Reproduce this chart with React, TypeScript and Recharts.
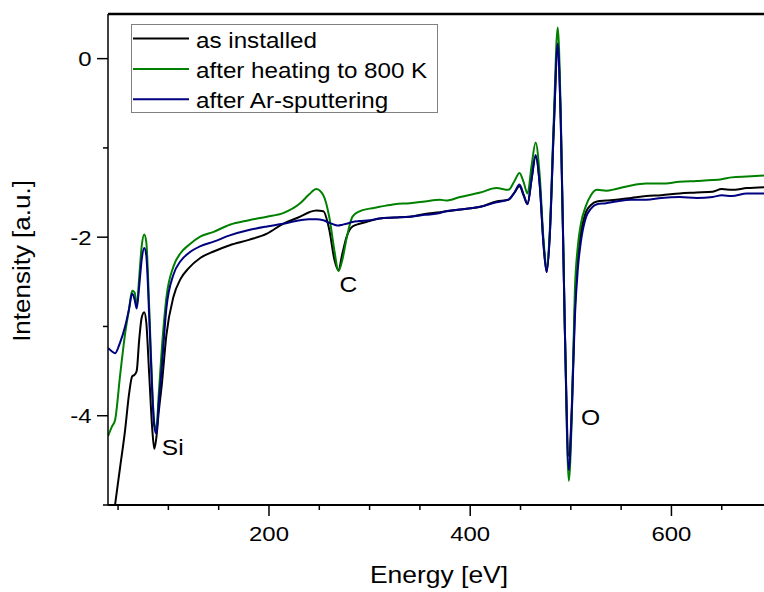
import React from 'react';
import { ComposedChart, Line, Scatter, XAxis, YAxis, Legend, ReferenceLine, Label } from 'recharts';

const FONT = '"Liberation Sans", Arial, sans-serif';

// energy grid [eV] shared by all three spectra
const energy = [
  40, 44, 47, 52, 57, 61, 64, 66.5, 68.5, 71, 73.5, 76, 78, 81, 84, 86, 88, 90.5, 93.5, 98,
  105, 112, 120, 132, 145, 161, 180, 198, 214, 231, 240, 247, 254, 260, 265, 269, 273, 277, 283, 290,
  300, 310, 325, 340, 355, 370, 376, 390, 410, 426, 438, 444, 449, 453, 457, 461, 465, 469, 473, 476,
  479, 483, 487, 490, 494, 498, 501, 504, 507, 510, 515, 520, 526, 535, 545, 560, 575, 590, 608, 625,
  641, 650, 660, 675, 692,
];

const asInstalled = [
  -5.6, -5.27, -5.0, -4.58, -4.16, -3.75, -3.56, -3.54, -3.5, -3.15, -2.9, -2.84, -2.95, -3.55, -4.15, -4.37, -4.25, -3.95, -3.65, -3.1,
  -2.67, -2.47, -2.35, -2.23, -2.16, -2.09, -2.03, -1.96, -1.85, -1.77, -1.72, -1.7, -1.71, -1.92, -2.25, -2.37, -2.18, -2.0, -1.88, -1.85,
  -1.82, -1.79, -1.78, -1.77, -1.74, -1.72, -1.71, -1.69, -1.66, -1.6, -1.58, -1.5, -1.43, -1.53, -1.63, -1.35, -1.1, -1.4, -2.1, -2.39,
  -2.0, -0.8, 0.12, -0.7, -3.0, -4.45, -3.9, -2.8, -2.2, -1.95, -1.72, -1.64, -1.6, -1.59, -1.58, -1.56, -1.54, -1.53, -1.51, -1.5,
  -1.49, -1.46, -1.47, -1.45, -1.44,
];

const heated = [
  -4.23, -4.12, -4.05, -3.55, -3.08, -2.8, -2.6, -2.62, -2.78, -2.45, -2.1, -1.97, -2.05, -2.8, -3.7, -4.08, -4.15, -3.75, -3.25, -2.68,
  -2.33, -2.18, -2.09, -1.99, -1.94, -1.86, -1.81, -1.77, -1.73, -1.62, -1.52, -1.46, -1.53, -1.78, -2.15, -2.38, -2.25, -2.02, -1.77, -1.71,
  -1.68, -1.66, -1.63, -1.62, -1.6, -1.58, -1.59, -1.55, -1.5, -1.45, -1.47, -1.37, -1.28, -1.38, -1.51, -1.2, -0.94, -1.3, -2.05, -2.33,
  -1.95, -0.7, 0.35, -0.6, -3.0, -4.73, -4.0, -2.6, -2.1, -1.85, -1.65, -1.53, -1.47, -1.48, -1.46, -1.42, -1.4, -1.4, -1.38, -1.37,
  -1.36, -1.35, -1.33, -1.32, -1.31,
];

const sputtered = [
  -3.24, -3.28, -3.3, -3.18, -3.0, -2.8, -2.63, -2.7, -2.8, -2.55, -2.25, -2.12, -2.2, -2.9, -3.75, -4.12, -4.2, -3.85, -3.45, -2.8,
  -2.42, -2.27, -2.18, -2.1, -2.05, -1.98, -1.92, -1.88, -1.85, -1.81, -1.8, -1.8, -1.81, -1.84, -1.86, -1.87, -1.86, -1.85, -1.83, -1.82,
  -1.81, -1.79, -1.78, -1.77, -1.75, -1.73, -1.71, -1.69, -1.66, -1.61, -1.58, -1.5, -1.41, -1.52, -1.63, -1.35, -1.08, -1.4, -2.1, -2.39,
  -2.0, -0.8, 0.17, -0.7, -3.0, -4.61, -3.95, -2.9, -2.35, -2.05, -1.78, -1.68, -1.63, -1.62, -1.6, -1.58, -1.58, -1.56, -1.55, -1.56,
  -1.55, -1.53, -1.54, -1.51, -1.51,
];

const seriesNames = ['as installed', 'after heating to 800 K', 'after Ar-sputtering'];
const seriesColors = ['#000000', '#008000', '#000080'];

// peak annotations
const peakNames = ['Si', 'C', 'O'];
const peakEnergy = [93.5, 270, 510];
const peakIntensity = [-4.44, -2.61, -4.1];

const xDomain = [40, 692];
const yDomain = [-5, 0.5];
const xTicks = [50, 100, 150, 200, 250, 300, 350, 400, 450, 500, 550, 600, 650];
const xLabeled = [200, 400, 600];
const yTicks = [-5, -4, -3, -2, -1, 0];
const yLabeled = [-4, -2, 0];

const rows = energy.map((e, i) => ({
  e,
  asInstalled: asInstalled[i],
  heated: heated[i],
  sputtered: sputtered[i],
}));

const peaks = peakNames.map((name, i) => ({ e: peakEnergy[i], v: peakIntensity[i], name }));

const XTick = (props: any) => {
  const { x, y, payload } = props;
  const major = xLabeled.includes(payload.value);
  return (
    <g>
      <line x1={x} y1={y} x2={x} y2={y + (major ? 11 : 5)} stroke="#000" strokeWidth={1.5} />
      {major && (
        <text transform={`translate(${x},${y + 36}) scale(1.14,1)`} textAnchor="middle" fontSize={21} fontFamily={FONT} fill="#000">
          {payload.value}
        </text>
      )}
    </g>
  );
};

const YTick = (props: any) => {
  const { x, y, payload } = props;
  const major = yLabeled.includes(payload.value);
  return (
    <g>
      <line x1={x} y1={y} x2={x - (major ? 11 : 5)} y2={y} stroke="#000" strokeWidth={1.5} />
      {major && (
        <text transform={`translate(${x - 16.5},${y + 7.5}) scale(1.14,1)`} textAnchor="end" fontSize={21} fontFamily={FONT} fill="#000">
          {payload.value}
        </text>
      )}
    </g>
  );
};

const XTitle = (props: any) => {
  const { viewBox } = props;
  const cx = viewBox.x + viewBox.width / 2 + 3;
  return (
    <text transform={`translate(${cx},${viewBox.y + 78}) scale(1.15,1)`} textAnchor="middle" fontSize={23} fontFamily={FONT} fill="#000">
      Energy [eV]
    </text>
  );
};

const YTitle = (props: any) => {
  const { viewBox } = props;
  const cy = viewBox.y + viewBox.height / 2 + 1.5;
  return (
    <text transform={`translate(${viewBox.x + 30},${cy}) rotate(-90) scale(1.13,1)`} textAnchor="middle" fontSize={23} fontFamily={FONT} fill="#000">
      Intensity [a.u.]
    </text>
  );
};

const PeakLabel = (props: any) => {
  const { cx, cy, payload } = props;
  return (
    <text transform={`translate(${cx},${cy}) scale(1.12,1)`} fontSize={22} fontFamily={FONT} fill="#000">
      {payload.name}
    </text>
  );
};

const LegendBox = (props: any) => {
  const items = (props.payload || [])
    .filter((p: any) => seriesNames.includes(p.value))
    .sort((a: any, b: any) => seriesNames.indexOf(a.value) - seriesNames.indexOf(b.value));
  return (
    <svg width={307} height={89} style={{ display: 'block' }}>
      <rect x={0.5} y={0.5} width={306} height={88} fill="#fff" stroke="#808080" strokeWidth={1} />
      {items.map((it: any, i: number) => (
        <g key={i}>
          <line x1={2} x2={58} y1={14.5 + 30.4 * i} y2={14.5 + 30.4 * i} stroke={it.color} strokeWidth={2} />
          <text transform={`translate(65,${23.5 + 30.4 * i}) scale(1.1,1)`} fontSize={22} fontFamily={FONT} fill="#000">
            {it.value}
          </text>
        </g>
      ))}
    </svg>
  );
};

export default function App() {
  return (
    <div style={{ position: 'absolute', left: 0, top: 0, background: '#fff' }}>
      <ComposedChart width={764} height={592} data={rows} margin={{ top: 14, right: 0, bottom: 0, left: 0 }}>
        <XAxis
          dataKey="e"
          type="number"
          domain={xDomain}
          allowDataOverflow
          ticks={xTicks}
          interval={0}
          tick={<XTick />}
          tickLine={false}
          tickSize={0}
          tickMargin={0}
          height={87}
          axisLine={{ stroke: '#000', strokeWidth: 2 }}
        >
          <Label content={(p: any) => <XTitle {...p} />} />
        </XAxis>
        <YAxis
          type="number"
          domain={yDomain}
          allowDataOverflow
          ticks={yTicks}
          interval={0}
          tick={<YTick />}
          tickLine={false}
          tickSize={0}
          tickMargin={0}
          width={108}
          axisLine={{ stroke: '#000', strokeWidth: 1.5 }}
        >
          <Label content={(p: any) => <YTitle {...p} />} />
        </YAxis>
        <ReferenceLine y={yDomain[1]} stroke="#000" strokeWidth={2.5} />
        <Line dataKey="asInstalled" name={seriesNames[0]} stroke={seriesColors[0]} strokeWidth={2} dot={false} type="monotone" isAnimationActive={false} />
        <Line dataKey="heated" name={seriesNames[1]} stroke={seriesColors[1]} strokeWidth={2} dot={false} type="monotone" isAnimationActive={false} />
        <Line dataKey="sputtered" name={seriesNames[2]} stroke={seriesColors[2]} strokeWidth={2} dot={false} type="monotone" isAnimationActive={false} />
        <Scatter data={peaks} dataKey="v" shape={<PeakLabel />} legendType="none" isAnimationActive={false} />
        <Legend
          layout="vertical"
          align="center"
          verticalAlign="middle"
          content={<LegendBox />}
          wrapperStyle={{ left: 131, top: 23.5, width: 307, height: 89 }}
        />
      </ComposedChart>
    </div>
  );
}
